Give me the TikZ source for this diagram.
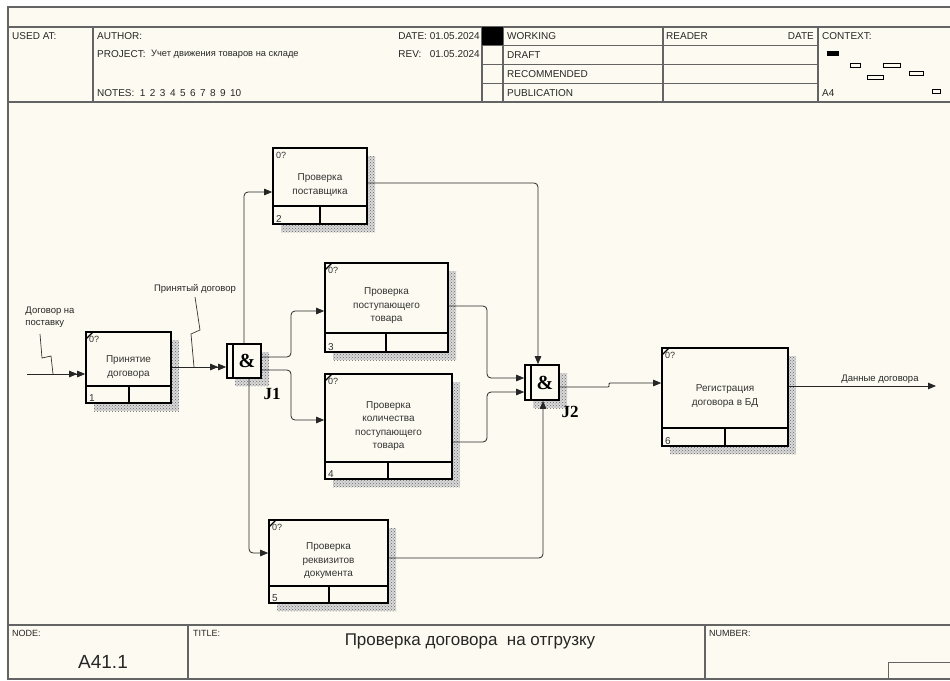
\documentclass[tikz,border=0pt]{standalone}
\usepackage{fontspec}
\setmainfont{Liberation Sans}
\newfontfamily\serifb{Liberation Serif}
\usetikzlibrary{arrows.meta,patterns}
\definecolor{paper}{RGB}{253,251,241}
\definecolor{framec}{RGB}{100,100,100}
\tikzset{
 frm/.style={draw=framec, line width=1.3pt},
 thinfrm/.style={draw=framec, line width=0.9pt},
 boxst/.style={draw=black, line width=1.6pt, fill=paper, inner sep=0pt},
 boxln/.style={draw=black, line width=1.6pt},
 conn/.style={draw=black!85, line width=0.8pt, rounded corners=4pt},
 tipa/.style={-{Triangle[length=8pt,width=6.5pt]}},
 dtipa/.style={-{Triangle[length=8pt,width=6.5pt]Triangle[length=8pt,width=6.5pt]}},
 shd/.style={pattern=crosshatch dots, pattern color=black!60},
 hdr/.style={font=\fontsize{10}{11}\selectfont, inner sep=0pt, anchor=west, text=black!85},
 ftr/.style={font=\fontsize{9}{10}\selectfont, inner sep=0pt, anchor=west, text=black!85},
 smalltxt/.style={font=\fontsize{9}{10}\selectfont, inner sep=0pt, text=black!80},
 boxtxt/.style={font=\fontsize{10}{13.5}\selectfont, align=center, inner sep=0pt, text=black!80},
 lbl/.style={font=\fontsize{9.5}{12}\selectfont, align=left, inner sep=0pt, text=black!85},
 ampst/.style={font=\serifb\bfseries\fontsize{20}{20}\selectfont, inner sep=0pt},
 jlbl/.style={font=\serifb\bfseries\fontsize{17}{17}\selectfont, inner sep=0pt},
 squig/.style={draw=black!80, line width=0.7pt},
}
\newcommand\IdefBox[9]{%
 \fill[gray!30] (#2+8,#3+8) rectangle (#4+8,#5+8);
 \fill[shd] (#2+8,#3+8) rectangle (#4+8,#5+8);
 \pgfmathsetmacro\bw{#4-#2}\pgfmathsetmacro\bh{#5-#3}%
 \node[boxst, minimum width=\bw pt, minimum height=\bh pt] (#1) at ({(#2+#4)/2},{(#3+#5)/2}) {};
 \draw[boxln] (#2,#6) -- (#4,#6) (#7,#6) -- (#7,#5);
 \node[smalltxt, anchor=north west] (#1z) at (#2+3,#3+4) {0?};
 \node[smalltxt, anchor=south west, font=\fontsize{10}{10}\selectfont] (#1n) at (#2+3,#5-1.5) {#8};
 \node[boxtxt] (#1t) at ({(#2+#4)/2},{(#3+#6)/2+8}) {#9};
}
\newcommand\JuncBox[5]{%
 \fill[gray!30] (#2+8,#3+8) rectangle (#4+8,#5+8);
 \fill[shd] (#2+8,#3+8) rectangle (#4+8,#5+8);
 \pgfmathsetmacro\bw{#4-#2}\pgfmathsetmacro\bh{#5-#3}%
 \node[boxst, minimum width=\bw pt, minimum height=\bh pt] (#1) at ({(#2+#4)/2},{(#3+#5)/2}) {};
 \draw[boxln] (#2+6,#3) -- (#2+6,#5);
 \node[ampst] (#1a) at ({(#2+#4)/2+3},{(#3+#5)/2}) {\&};
}
\begin{document}
\begin{tikzpicture}[x=1pt,y=-1pt]
\useasboundingbox (0,0) rectangle (950,680);
\fill[white] (0,0) rectangle (950,680);
\fill[paper] (8,7) rectangle (950,680);
% ---------- frame ----------
\draw[frm] (950,7) -- (8,7) -- (8,679) -- (950,679);
\draw[frm] (8,27) -- (950,27);
\draw[frm] (8,102) -- (950,102);
\foreach \xx in {93,482,503,663,818} \draw[frm] (\xx,27) -- (\xx,102);
\foreach \yy in {45,64,83} \draw[thinfrm] (482,\yy) -- (818,\yy);
\fill[black] (482,27) rectangle (503,45);
\draw[frm] (8,625) -- (950,625);
\draw[frm] (188,625) -- (188,679);
\draw[frm] (705,625) -- (705,679);
\draw[thinfrm] (950,662) -- (888,662) -- (888,679);
% ---------- header texts ----------
\node[hdr] (usedat) at (12,36) {USED AT:};
\node[hdr] (author) at (97,36) {AUTHOR:};
\node[hdr] (project) at (97,54) {PROJECT:};
\node[hdr, font=\fontsize{9.3}{10}\selectfont] (projname) at (151,54) {Учет движения товаров на складе};
\node[hdr] (notes) at (97,93) {NOTES:\ \ 1\,\ 2\,\ 3\,\ 4\,\ 5\,\ 6\,\ 7\,\ 8\,\ 9\,\ 10};
\node[hdr, anchor=east] (date) at (480,36) {DATE: 01.05.2024};
\node[hdr, anchor=east] (rev) at (480,54) {REV:\ \ \ 01.05.2024};
\node[hdr] (working) at (507,36) {WORKING};
\node[hdr] (draft) at (507,55) {DRAFT};
\node[hdr] (recom) at (507,74) {RECOMMENDED};
\node[hdr] (publ) at (507,93) {PUBLICATION};
\node[hdr] (reader) at (666,36) {READER};
\node[hdr, anchor=east] (rdate) at (814,36) {DATE};
\node[hdr] (context) at (822,36) {CONTEXT:};
\node[hdr] (a4) at (822,93) {A4};
\fill[black] (827,51) rectangle (839,55.5);
\draw[line width=0.8pt] (850,63) rectangle (860,67);
\draw[line width=0.8pt] (883,63) rectangle (900,67);
\draw[line width=0.8pt] (867,75) rectangle (883,79);
\draw[line width=0.8pt] (909,71) rectangle (923,75);
\draw[line width=0.8pt] (932,89) rectangle (940,93);
% ---------- footer texts ----------
\node[ftr] (nodel) at (12,633) {NODE:};
\node[ftr] (titlel) at (193,633) {TITLE:};
\node[ftr] (numberl) at (709,633) {NUMBER:};
\node[inner sep=0pt, font=\fontsize{19}{20}\selectfont, text=black!85] (nodeid) at (103,662) {A41.1};
\node[inner sep=0pt, font=\fontsize{17}{18}\selectfont, text=black!85] (title) at (470,641) {Проверка договора\ \ на отгрузку};
% ---------- boxes ----------
\IdefBox{b1}{86}{332}{171}{403}{386}{129}{1}{Принятие\\договора}
\IdefBox{b2}{273}{148}{367}{224}{206}{320}{2}{Проверка\\поставщика}
\IdefBox{b3}{325}{263}{448}{352}{333}{386}{3}{Проверка\\поступающего\\товара}
\IdefBox{b4}{325}{374}{452}{479}{462}{388}{4}{Проверка\\количества\\поступающего\\товара}
\IdefBox{b5}{269}{520}{388}{603}{586}{329}{5}{Проверка\\реквизитов\\документа}
\IdefBox{b6}{662}{348}{788}{446}{428}{725}{6}{Регистрация\\договора в БД}
\foreach \bx/\by in {86/332,325/263,325/374,269/520,662/348}
  \draw[line width=1.2pt] (\bx,\by+7) -- (\bx+7,\by);
\JuncBox{j1}{227}{344}{261}{378}
\JuncBox{j2}{525}{365}{559}{400}
\node[jlbl] (j1l) at (272,394) {J1};
\node[jlbl] (j2l) at (570,412) {J2};
% ---------- connectors ----------
\coordinate (in1) at (27,374);
\draw[conn, dtipa] (in1) -- (in1 -| b1.west);
\draw[conn, dtipa] (b1.east |- 0,367) -- (j1.west |- 0,367);
\draw[conn, tipa] (j1.north) |- (b2.west |- 0,192);
\draw[conn, tipa] (j1.east |- 0,357) -- (291,357) -- (291,311) -- (b3.west |- 0,311);
\draw[conn, tipa] (j1.east |- 0,370) -- (291,370) -- (291,420) -- (b4.west |- 0,420);
\draw[conn, tipa] (j1.south -| 249,0) -- (249,553) -- (b5.west |- 0,553);
\draw[conn, tipa] (b2.east |- 0,183) -- (538,183) -- (j2.north -| 538,0);
\draw[conn, tipa] (b3.east |- 0,306) -- (487,306) -- (487,378) -- (j2.west |- 0,378);
\draw[conn, tipa] (b4.east |- 0,442) -- (487,442) -- (487,392) -- (j2.west |- 0,392);
\draw[conn, tipa] (b5.east |- 0,558) -- (543,558) -- (j2.south -| 543,0);
\draw[conn, tipa] (j2.east |- 0,387) -- (604,387) .. controls (610,387) and (608,383) .. (614,383) -- (b6.west |- 0,383);
\coordinate (out1) at (936,386);
\draw[conn, tipa] (b6.east |- out1) -- (out1);
% ---------- labels ----------
\node[lbl] (lin1) at (50,317) {Договор на\\поставку};
\draw[squig] (53,374) -- (51,356) -- (42,358) -- (40,334);
\node[lbl] (lacc) at (195,289) {Принятый договор};
\draw[squig] (194,367) -- (191,334) -- (200,330) -- (195,297);
\node[lbl] (lout) at (880,379) {Данные договора};
\end{tikzpicture}
\end{document}
